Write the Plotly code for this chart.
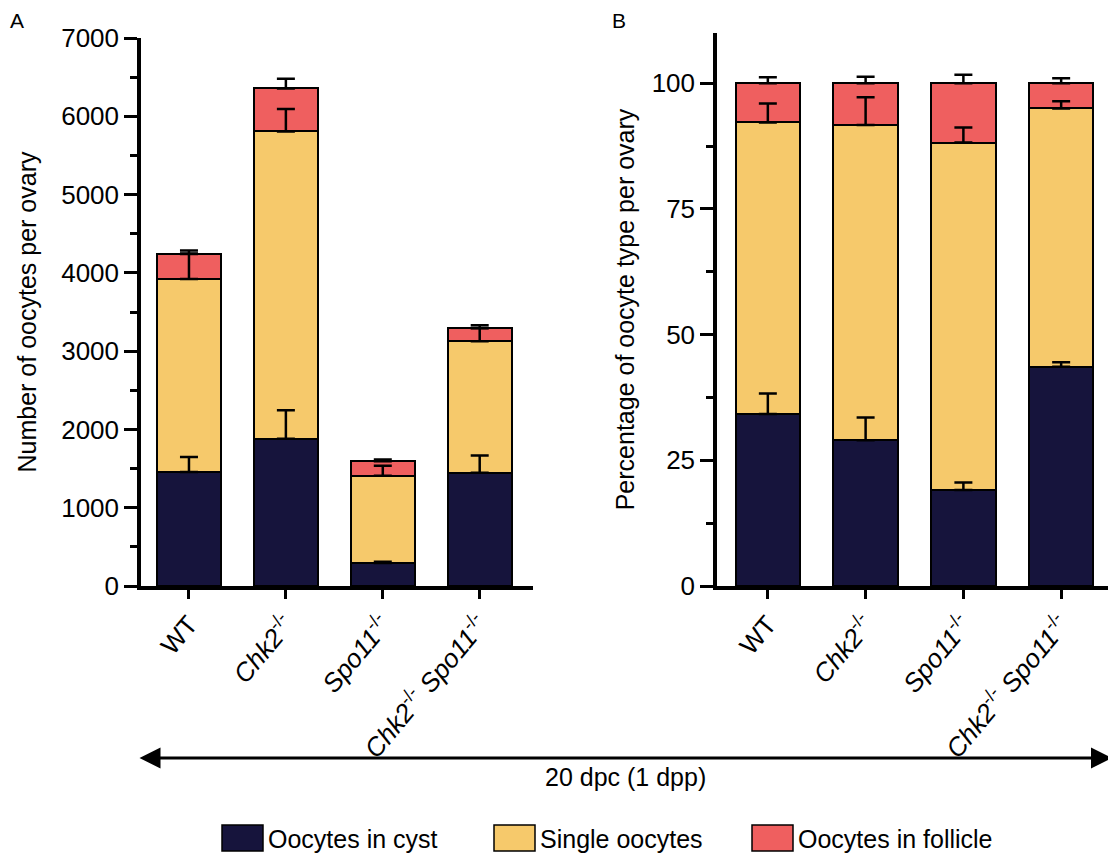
import numpy as np
import plotly.graph_objects as go

categories = ["WT", "Chk2", "Spo11", "Chk2 Spo11"]
tick_labels = ["WT", "<i>Chk2</i><sup>-/-</sup>", "<i>Spo11</i><sup>-/-</sup>",
               "<i>Chk2</i><sup>-/-</sup> <i>Spo11</i><sup>-/-</sup>"]
series_names = ["Oocytes in cyst", "Single oocytes", "Oocytes in follicle"]
colors = ["#16143C", "#F6C96B", "#EF5F5F"]

# Panel A: number of oocytes per ovary
a_cyst = [1457, 1880, 295, 1448]
a_single = [2465, 3926, 1113, 1677]
a_follicle = [325, 550, 185, 167]
a_cyst_err = [190, 365, 15, 220]
a_single_err = [320, 286, 128, 170]
a_follicle_err = [40, 123, 22, 40]

# Panel B: percentage of oocyte type per ovary
b_cyst = [34.2, 29.0, 19.1, 43.6]
b_single = [58.0, 62.7, 69.1, 51.4]
b_follicle = [7.8, 8.3, 11.8, 5.0]
b_cyst_err = [4.1, 4.5, 1.5, 0.9]
b_single_err = [3.8, 5.5, 3.0, 1.4]
b_follicle_err = [1.2, 1.3, 1.7, 1.0]

FONT = "Liberation Sans, Arial, sans-serif"
OFF = 8  # page body margin
W, H = 1116 - OFF, 858 - OFF

fig = go.Figure()

def add_panel(segs, errs, xa, ya):
    for name, vals, col in zip(series_names, segs, colors):
        fig.add_trace(go.Bar(x=categories, y=vals, name=name, marker_color=col,
                             marker_line=dict(color="black", width=2),
                             xaxis=xa, yaxis=ya, showlegend=False, width=0.66))
    tops = np.cumsum(np.array(segs, dtype=float), axis=0)
    for top, err in zip(tops, errs):
        fig.add_trace(go.Scatter(x=categories, y=top, mode="markers",
                                 marker=dict(size=1, color="rgba(0,0,0,0)"),
                                 error_y=dict(type="data", symmetric=False, array=err,
                                              arrayminus=[0] * len(err), color="black",
                                              thickness=2.5, width=9),
                                 xaxis=xa, yaxis=ya, showlegend=False, hoverinfo="skip"))

add_panel([a_cyst, a_single, a_follicle], [a_cyst_err, a_single_err, a_follicle_err], "x", "y")
add_panel([b_cyst, b_single, b_follicle], [b_cyst_err, b_single_err, b_follicle_err], "x2", "y2")

def px_x(p):
    return (p - OFF) / W

def px_y(p):
    return 1 - (p - OFF) / H

axis_common = dict(showline=True, linecolor="black", linewidth=3.5, ticks="outside",
                   tickwidth=3, tickcolor="black", showgrid=False, zeroline=False,
                   automargin=False, tickfont=dict(family=FONT, size=26, color="black"))

fig.update_layout(
    width=W, height=H, margin=dict(l=0, r=0, t=0, b=0),
    paper_bgcolor="white", plot_bgcolor="white", barmode="stack", bargap=0.34,
    showlegend=False, font=dict(family=FONT, color="black"),
    xaxis=dict(domain=[px_x(141), px_x(533)], range=[-0.495, 3.55], anchor="y",
               tickmode="array", tickvals=categories, ticktext=tick_labels,
               tickangle=-50, ticklen=9, **axis_common),
    yaxis=dict(domain=[px_y(586), px_y(38)], range=[0, 7000], anchor="x",
               tickmode="linear", tick0=0, dtick=1000, ticklen=13,
               minor=dict(dtick=500, ticklen=7, tickwidth=3, tickcolor="black", ticks="outside"),
               title=dict(text="Number of oocytes per ovary", standoff=18,
                          font=dict(family=FONT, size=25, color="black")),
               **axis_common),
    xaxis2=dict(domain=[px_x(717), px_x(1112)], range=[-0.52, 3.52], anchor="y2",
                tickmode="array", tickvals=categories, ticktext=tick_labels,
                tickangle=-50, ticklen=9, **axis_common),
    yaxis2=dict(domain=[px_y(586), px_y(33)], range=[0, 110], anchor="x2",
                tickmode="array", tickvals=[0, 25, 50, 75, 100], ticklen=13,
                minor=dict(tickvals=[12.5, 37.5, 62.5, 87.5], ticklen=7, tickwidth=3,
                           tickcolor="black", ticks="outside"),
                title=dict(text="Percentage of oocyte type per ovary", standoff=11,
                           font=dict(family=FONT, size=25, color="black")),
                **axis_common),
)

# Panel letters
fig.add_annotation(x=px_x(9), y=px_y(8), xref="paper", yref="paper", text="A",
                   showarrow=False, xanchor="left", yanchor="top", borderpad=0,
                   font=dict(family=FONT, size=21, color="black"))
fig.add_annotation(x=px_x(611), y=px_y(8), xref="paper", yref="paper", text="B",
                   showarrow=False, xanchor="left", yanchor="top", borderpad=0,
                   font=dict(family=FONT, size=21, color="black"))

# Double-headed arrow and stage label
fig.add_annotation(x=px_x(1112), y=px_y(758), ax=-(1112 - 138), ay=0,
                   xref="paper", yref="paper", axref="pixel", ayref="pixel",
                   text="", showarrow=True, arrowhead=2, arrowside="end+start",
                   arrowsize=1.4, arrowwidth=3, arrowcolor="black")
fig.add_annotation(x=px_x(625), y=px_y(777), xref="paper", yref="paper",
                   text="20 dpc (1 dpp)", showarrow=False, xanchor="center", yanchor="middle",
                   font=dict(family=FONT, size=25, color="black"))

# Legend (drawn manually for large swatches)
leg_box_x = [222, 494, 752]
for bx, name, col in zip(leg_box_x, series_names, colors):
    fig.add_shape(type="rect", xref="paper", yref="paper",
                  x0=px_x(bx), x1=px_x(bx + 41), y0=px_y(851), y1=px_y(825),
                  fillcolor=col, line=dict(color="black", width=1.5))
    fig.add_annotation(x=px_x(bx + 44), y=px_y(839), xref="paper", yref="paper",
                       text=name, showarrow=False, xanchor="left", yanchor="middle",
                       font=dict(family=FONT, size=25, color="black"))

fig.write_html("out.html")
